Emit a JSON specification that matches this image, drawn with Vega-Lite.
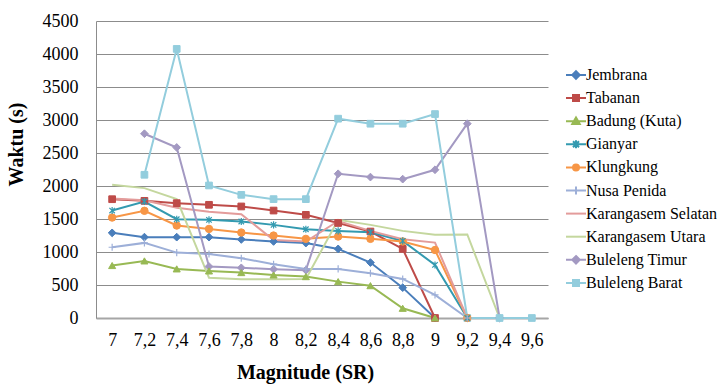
{
  "$schema": "https://vega.github.io/schema/vega-lite/v6.json",
  "width": 452,
  "height": 297,
  "autosize": {"type": "none"},
  "padding": {"left": 96, "top": 21, "right": 169, "bottom": 72},
  "background": "white",
  "config": {
    "view": {"stroke": null},
    "font": "Liberation Serif, Times New Roman, DejaVu Serif, serif",
    "legend": {
      "labelFont": "Liberation Serif, Times New Roman, DejaVu Serif, serif",
      "labelFontSize": 16,
      "labelColor": "#000000",
      "symbolSize": 100,
      "symbolStrokeWidth": 2,
      "symbolOpacity": 1,
      "rowPadding": 7.1,
      "labelOffset": 2,
      "padding": 0
    }
  },
  "data": {"values": [
    {"s": "Jembrana", "m": "7", "v": 1290}, {"s": "Jembrana", "m": "7,2", "v": 1225}, {"s": "Jembrana", "m": "7,4", "v": 1225}, {"s": "Jembrana", "m": "7,6", "v": 1225}, {"s": "Jembrana", "m": "7,8", "v": 1190}, {"s": "Jembrana", "m": "8", "v": 1160}, {"s": "Jembrana", "m": "8,2", "v": 1135}, {"s": "Jembrana", "m": "8,4", "v": 1047}, {"s": "Jembrana", "m": "8,6", "v": 840}, {"s": "Jembrana", "m": "8,8", "v": 460}, {"s": "Jembrana", "m": "9", "v": 0},
    {"s": "Tabanan", "m": "7", "v": 1800}, {"s": "Tabanan", "m": "7,2", "v": 1775}, {"s": "Tabanan", "m": "7,4", "v": 1740}, {"s": "Tabanan", "m": "7,6", "v": 1715}, {"s": "Tabanan", "m": "7,8", "v": 1690}, {"s": "Tabanan", "m": "8", "v": 1628}, {"s": "Tabanan", "m": "8,2", "v": 1563}, {"s": "Tabanan", "m": "8,4", "v": 1440}, {"s": "Tabanan", "m": "8,6", "v": 1310}, {"s": "Tabanan", "m": "8,8", "v": 1047}, {"s": "Tabanan", "m": "9", "v": 0},
    {"s": "Badung (Kuta)", "m": "7", "v": 795}, {"s": "Badung (Kuta)", "m": "7,2", "v": 865}, {"s": "Badung (Kuta)", "m": "7,4", "v": 744}, {"s": "Badung (Kuta)", "m": "7,6", "v": 713}, {"s": "Badung (Kuta)", "m": "7,8", "v": 688}, {"s": "Badung (Kuta)", "m": "8", "v": 652}, {"s": "Badung (Kuta)", "m": "8,2", "v": 627}, {"s": "Badung (Kuta)", "m": "8,4", "v": 551}, {"s": "Badung (Kuta)", "m": "8,6", "v": 490}, {"s": "Badung (Kuta)", "m": "8,8", "v": 147}, {"s": "Badung (Kuta)", "m": "9", "v": 0},
    {"s": "Gianyar", "m": "7", "v": 1628}, {"s": "Gianyar", "m": "7,2", "v": 1765}, {"s": "Gianyar", "m": "7,4", "v": 1497}, {"s": "Gianyar", "m": "7,6", "v": 1487}, {"s": "Gianyar", "m": "7,8", "v": 1462}, {"s": "Gianyar", "m": "8", "v": 1411}, {"s": "Gianyar", "m": "8,2", "v": 1345}, {"s": "Gianyar", "m": "8,4", "v": 1320}, {"s": "Gianyar", "m": "8,6", "v": 1300}, {"s": "Gianyar", "m": "8,8", "v": 1168}, {"s": "Gianyar", "m": "9", "v": 804}, {"s": "Gianyar", "m": "9,2", "v": 0},
    {"s": "Klungkung", "m": "7", "v": 1522}, {"s": "Klungkung", "m": "7,2", "v": 1624}, {"s": "Klungkung", "m": "7,4", "v": 1401}, {"s": "Klungkung", "m": "7,6", "v": 1350}, {"s": "Klungkung", "m": "7,8", "v": 1295}, {"s": "Klungkung", "m": "8", "v": 1249}, {"s": "Klungkung", "m": "8,2", "v": 1199}, {"s": "Klungkung", "m": "8,4", "v": 1234}, {"s": "Klungkung", "m": "8,6", "v": 1199}, {"s": "Klungkung", "m": "8,8", "v": 1160}, {"s": "Klungkung", "m": "9", "v": 1030}, {"s": "Klungkung", "m": "9,2", "v": 0},
    {"s": "Nusa Penida", "m": "7", "v": 1072}, {"s": "Nusa Penida", "m": "7,2", "v": 1138}, {"s": "Nusa Penida", "m": "7,4", "v": 991}, {"s": "Nusa Penida", "m": "7,6", "v": 971}, {"s": "Nusa Penida", "m": "7,8", "v": 906}, {"s": "Nusa Penida", "m": "8", "v": 815}, {"s": "Nusa Penida", "m": "8,2", "v": 742}, {"s": "Nusa Penida", "m": "8,4", "v": 744}, {"s": "Nusa Penida", "m": "8,6", "v": 678}, {"s": "Nusa Penida", "m": "8,8", "v": 592}, {"s": "Nusa Penida", "m": "9", "v": 349}, {"s": "Nusa Penida", "m": "9,2", "v": 0},
    {"s": "Karangasem Selatan", "m": "7", "v": 1810}, {"s": "Karangasem Selatan", "m": "7,2", "v": 1785}, {"s": "Karangasem Selatan", "m": "7,4", "v": 1670}, {"s": "Karangasem Selatan", "m": "7,6", "v": 1610}, {"s": "Karangasem Selatan", "m": "7,8", "v": 1573}, {"s": "Karangasem Selatan", "m": "8", "v": 1180}, {"s": "Karangasem Selatan", "m": "8,2", "v": 1158}, {"s": "Karangasem Selatan", "m": "8,4", "v": 1470}, {"s": "Karangasem Selatan", "m": "8,6", "v": 1320}, {"s": "Karangasem Selatan", "m": "8,8", "v": 1194}, {"s": "Karangasem Selatan", "m": "9", "v": 1143}, {"s": "Karangasem Selatan", "m": "9,2", "v": 0},
    {"s": "Karangasem Utara", "m": "7", "v": 2018}, {"s": "Karangasem Utara", "m": "7,2", "v": 1968}, {"s": "Karangasem Utara", "m": "7,4", "v": 1801}, {"s": "Karangasem Utara", "m": "7,6", "v": 610}, {"s": "Karangasem Utara", "m": "7,8", "v": 587}, {"s": "Karangasem Utara", "m": "8", "v": 587}, {"s": "Karangasem Utara", "m": "8,2", "v": 590}, {"s": "Karangasem Utara", "m": "8,4", "v": 1487}, {"s": "Karangasem Utara", "m": "8,6", "v": 1411}, {"s": "Karangasem Utara", "m": "8,8", "v": 1320}, {"s": "Karangasem Utara", "m": "9", "v": 1262}, {"s": "Karangasem Utara", "m": "9,2", "v": 1265}, {"s": "Karangasem Utara", "m": "9,4", "v": 0},
    {"s": "Buleleng Timur", "m": "7,2", "v": 2792}, {"s": "Buleleng Timur", "m": "7,4", "v": 2584}, {"s": "Buleleng Timur", "m": "7,6", "v": 780}, {"s": "Buleleng Timur", "m": "7,8", "v": 760}, {"s": "Buleleng Timur", "m": "8", "v": 740}, {"s": "Buleleng Timur", "m": "8,2", "v": 725}, {"s": "Buleleng Timur", "m": "8,4", "v": 2185}, {"s": "Buleleng Timur", "m": "8,6", "v": 2135}, {"s": "Buleleng Timur", "m": "8,8", "v": 2104}, {"s": "Buleleng Timur", "m": "9", "v": 2246}, {"s": "Buleleng Timur", "m": "9,2", "v": 2944}, {"s": "Buleleng Timur", "m": "9,4", "v": 0},
    {"s": "Buleleng Barat", "m": "7,2", "v": 2170}, {"s": "Buleleng Barat", "m": "7,4", "v": 4077}, {"s": "Buleleng Barat", "m": "7,6", "v": 2008}, {"s": "Buleleng Barat", "m": "7,8", "v": 1866}, {"s": "Buleleng Barat", "m": "8", "v": 1801}, {"s": "Buleleng Barat", "m": "8,2", "v": 1801}, {"s": "Buleleng Barat", "m": "8,4", "v": 3020}, {"s": "Buleleng Barat", "m": "8,6", "v": 2944}, {"s": "Buleleng Barat", "m": "8,8", "v": 2944}, {"s": "Buleleng Barat", "m": "9", "v": 3090}, {"s": "Buleleng Barat", "m": "9,2", "v": 0}, {"s": "Buleleng Barat", "m": "9,4", "v": 0}, {"s": "Buleleng Barat", "m": "9,6", "v": 0}
  ]},
  "encoding": {
    "x": {
      "field": "m", "type": "ordinal",
      "scale": {"type": "point", "padding": 0.5, "domain": ["7", "7,2", "7,4", "7,6", "7,8", "8", "8,2", "8,4", "8,6", "8,8", "9", "9,2", "9,4", "9,6"]},
      "axis": {
        "title": "Magnitude (SR)", "titleFont": "Liberation Serif, Times New Roman, DejaVu Serif, serif", "titleFontSize": 20, "titleFontWeight": "bold", "titleColor": "#000000",
        "titleX": 209, "titleY": 54, "titleBaseline": "middle",
        "labelFont": "Liberation Serif, Times New Roman, DejaVu Serif, serif", "labelFontSize": 18, "labelColor": "#000000", "labelAngle": 0, "labelPadding": 13,
        "ticks": false, "domainColor": "#a6a6a6", "domainWidth": 2, "grid": false
      }
    },
    "y": {
      "field": "v", "type": "quantitative",
      "scale": {"domain": [0, 4500], "nice": false, "zero": true},
      "axis": {
        "title": "Waktu (s)", "titleFont": "Liberation Serif, Times New Roman, DejaVu Serif, serif", "titleFontSize": 20, "titleFontWeight": "bold", "titleColor": "#000000",
        "titleX": -70, "titleY": 123,
        "labelFont": "Liberation Serif, Times New Roman, DejaVu Serif, serif", "labelFontSize": 18, "labelColor": "#000000", "labelPadding": 18,
        "values": [0, 500, 1000, 1500, 2000, 2500, 3000, 3500, 4000, 4500], "format": "d",
        "ticks": false, "domainColor": "#8c8c8c", "grid": true, "gridColor": "#8c8c8c", "gridWidth": 1
      }
    }
  },
  "layer": [
    {
      "mark": {"type": "line", "strokeWidth": 2},
      "encoding": {
        "stroke": {"field": "s", "type": "nominal", "legend": null,
          "scale": {"domain": ["Jembrana", "Tabanan", "Badung (Kuta)", "Gianyar", "Klungkung", "Nusa Penida", "Karangasem Selatan", "Karangasem Utara", "Buleleng Timur", "Buleleng Barat"],
                    "range": ["#4A7EBB", "#BE4B48", "#98B954", "#339AB0", "#F79646", "#9DAFD8", "#E39C9B", "#C4D79E", "#A399C2", "#93CDDD"]}}
      }
    },
    {
      "transform": [{"filter": {"field": "s", "oneOf": ["Jembrana", "Buleleng Timur"]}}],
      "mark": {"type": "point", "shape": "diamond", "filled": true, "opacity": 1, "size": 60, "strokeWidth": 1},
      "encoding": {"fill": {"field": "s", "type": "nominal", "legend": null}, "stroke": {"field": "s", "type": "nominal", "legend": null}}
    },
    {
      "transform": [{"filter": {"field": "s", "oneOf": ["Tabanan", "Buleleng Barat"]}}],
      "mark": {"type": "point", "shape": "square", "filled": true, "opacity": 1, "size": 45, "strokeWidth": 1},
      "encoding": {"fill": {"field": "s", "type": "nominal", "legend": null}, "stroke": {"field": "s", "type": "nominal", "legend": null}}
    },
    {
      "transform": [{"filter": {"field": "s", "oneOf": ["Badung (Kuta)"]}}],
      "mark": {"type": "point", "shape": "triangle-up", "filled": true, "opacity": 1, "size": 50, "strokeWidth": 1},
      "encoding": {"fill": {"field": "s", "type": "nominal", "legend": null}, "stroke": {"field": "s", "type": "nominal", "legend": null}}
    },
    {
      "transform": [{"filter": {"field": "s", "oneOf": ["Klungkung"]}}],
      "mark": {"type": "point", "shape": "circle", "filled": true, "opacity": 1, "size": 55, "strokeWidth": 1},
      "encoding": {"fill": {"field": "s", "type": "nominal", "legend": null}, "stroke": {"field": "s", "type": "nominal", "legend": null}}
    },
    {
      "transform": [{"filter": {"field": "s", "oneOf": ["Gianyar"]}}],
      "mark": {"type": "point", "shape": "M-1,-1L1,1M-1,1L1,-1M0,-1.3V1.3", "filled": false, "opacity": 1, "size": 30, "strokeWidth": 1.2},
      "encoding": {"stroke": {"field": "s", "type": "nominal", "legend": null}}
    },
    {
      "transform": [{"filter": {"field": "s", "oneOf": ["Nusa Penida"]}}],
      "mark": {"type": "point", "shape": "M-1,0H1M0,-1V1", "filled": false, "opacity": 1, "size": 50, "strokeWidth": 1.2},
      "encoding": {"stroke": {"field": "s", "type": "nominal", "legend": null}}
    },
    {
      "mark": {"type": "point", "filled": true, "opacity": 0},
      "encoding": {
        "shape": {"field": "s", "type": "nominal",
          "legend": {"orient": "none", "legendX": 472, "legendY": 46, "title": null, "direction": "vertical"},
          "scale": {"domain": ["Jembrana", "Tabanan", "Badung (Kuta)", "Gianyar", "Klungkung", "Nusa Penida", "Karangasem Selatan", "Karangasem Utara", "Buleleng Timur", "Buleleng Barat"],
                    "range": [
                      "M-2,0H2M0,-0.75L0.75,0L0,0.75L-0.75,0Z",
                      "M-2,0H2M-0.6,-0.6H0.6V0.6H-0.6Z",
                      "M-2,0H2M0,-0.75L0.75,0.55H-0.75Z",
                      "M-2,0H2M-0.6,-0.6L0.6,0.6M-0.6,0.6L0.6,-0.6M0,-0.8V0.8",
                      "M-2,0H2M-0.6,0A0.6,0.6,0,1,0,0.6,0A0.6,0.6,0,1,0,-0.6,0Z",
                      "M-2,0H2M0,-0.8V0.8",
                      "M-2,0H2",
                      "M-2,0H2",
                      "M-2,0H2M0,-0.75L0.75,0L0,0.75L-0.75,0Z",
                      "M-2,0H2M-0.6,-0.6H0.6V0.6H-0.6Z"
                    ]}},
        "fill": {"field": "s", "type": "nominal",
          "legend": {"orient": "none", "legendX": 472, "legendY": 46, "title": null, "direction": "vertical"},
          "scale": {"domain": ["Jembrana", "Tabanan", "Badung (Kuta)", "Gianyar", "Klungkung", "Nusa Penida", "Karangasem Selatan", "Karangasem Utara", "Buleleng Timur", "Buleleng Barat"],
                    "range": ["#4A7EBB", "#BE4B48", "#98B954", "transparent", "#F79646", "transparent", "transparent", "transparent", "#A399C2", "#93CDDD"]}},
        "stroke": {"field": "s", "type": "nominal",
          "legend": {"orient": "none", "legendX": 472, "legendY": 46, "title": null, "direction": "vertical"}}
      }
    }
  ],
  "resolve": {"legend": {"stroke": "independent", "fill": "independent", "shape": "independent"}}
}
